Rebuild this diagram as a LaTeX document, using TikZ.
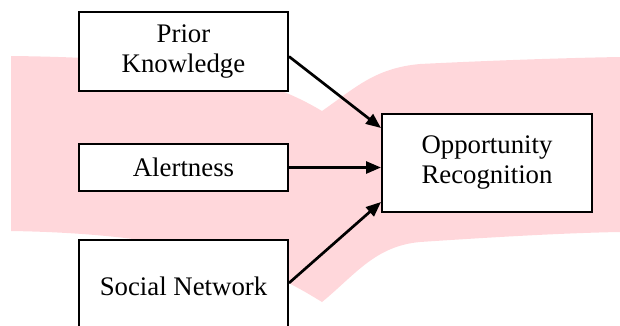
\documentclass[tikz,border=0pt]{standalone}
\usepackage{fontspec}
\setmainfont{Liberation Serif}
\usetikzlibrary{calc,arrows.meta}
\tikzset{>={Triangle[length=15pt,width=12pt]}}
\definecolor{bandpink}{RGB}{255,215,219}
\tikzset{factor/.style={draw,line width=2pt,fill=white,align=center,inner sep=0pt,
  font=\fontsize{26.8}{30}\selectfont}}
\tikzset{link/.style={->,line width=2.7pt}}

\begin{document}
\begin{tikzpicture}[x=1pt,y=-1pt]
\useasboundingbox (0,0) rectangle (620,325);
\clip (0,0) rectangle (620,325);
% background band
\fill[bandpink] (11,56) .. controls (200,58) and (270,80) .. (322,111)
  .. controls (355,88) and (375,68) .. (420,64)
  .. controls (480,61) and (560,58) .. (620,57) -- (620,232)
  .. controls (560,233) and (480,238) .. (420,242)
  .. controls (375,246) and (355,275) .. (322,302)
  .. controls (270,270) and (200,234) .. (11,231) -- cycle;
% boxes
\node (prior) [factor,minimum width=209pt,minimum height=79pt] at (183.5,51.5) {Prior\\Knowledge};
\node (alert) [factor,minimum width=209pt,minimum height=47pt] at (183.5,167.5) {Alertness};
\node (social) [factor,minimum width=209pt,minimum height=92pt] at (183.5,286) {Social Network};
\node (opp) [factor,minimum width=210pt,minimum height=98pt] at (487,163) {Opportunity\\Recognition};
% arrows
\draw[link] ($(prior.east)+(0,5)$) -- ($(opp.west)+(0,-35)$);
\draw[link] (alert.east) -- (alert.east -| opp.west);
\draw[link] ($(social.east)+(0,-3)$) -- ($(opp.west)+(0,39)$);
\end{tikzpicture}
\end{document}
